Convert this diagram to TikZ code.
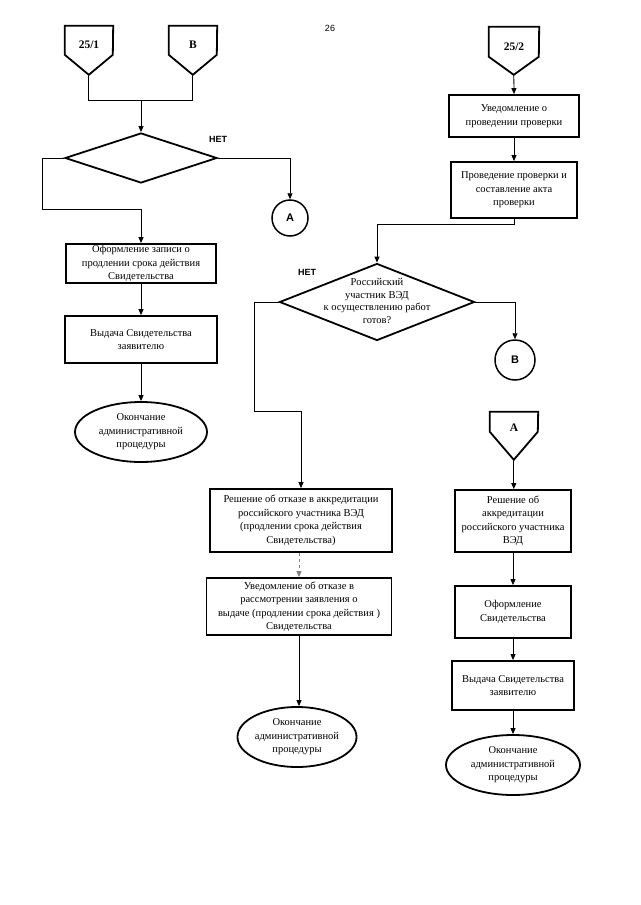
\documentclass[tikz,border=0pt]{standalone}
\usepackage{fontspec}
\setmainfont{Liberation Serif}
\setsansfont{Liberation Sans}
\usetikzlibrary{positioning,shapes.geometric,arrows.meta}

\tikzset{
  procbox/.style={draw,line width=1.8pt,align=center,inner sep=1pt,
    font=\fontsize{10.5}{13.5}\selectfont},
  decision/.style={diamond,draw,line width=1.8pt,inner sep=0pt},
  endproc/.style={ellipse,draw,line width=1.8pt,inner sep=0pt,align=center,
    font=\fontsize{10.5}{13.5}\selectfont},
  onpage/.style={circle,draw,line width=1.5pt,inner sep=0pt,
    font=\sffamily\bfseries\fontsize{11}{13}\selectfont},
  offpage/.style={inner sep=0pt,minimum width=48pt,
    font=\bfseries\fontsize{11.5}{13}\selectfont},
  pentline/.style={line width=1.8pt,line join=miter},
  nolabel/.style={font=\sffamily\bfseries\fontsize{9}{11}\selectfont},
  flow/.style={line width=0.8pt},
  flowarrow/.style={flow,-{Triangle[length=6pt,width=5pt]}},
}

\begin{document}
\begin{tikzpicture}[x=1pt,y=-1pt]

          \useasboundingbox (0,0) rectangle (640,905);
          \node[font=\sffamily\fontsize{9}{10}\selectfont] (pagenum) at (330,28) {26};

          % Entry points 25/1 and B
          \node[offpage,minimum height=38pt] (p251) at (89,45) {25/1};
          \draw[pentline] (p251.north west) -- ++(0,29) -- ++(24,20) coordinate (p251tip)
              -- ++(24,-20) -- (p251.north east) -- cycle;
          \node[offpage,minimum height=38pt] (pB) at (193,45) {В};
          \draw[pentline] (pB.north west) -- ++(0,29) -- ++(24,20) coordinate (pBtip)
              -- ++(24,-20) -- (pB.north east) -- cycle;

          % First check
          \node[decision,minimum width=152pt,minimum height=50pt] (d1) at (141,158) {};
          \node[nolabel] (no1) at (218,139) {НЕТ};
          \node[onpage,minimum size=36pt] (cA) at (290,218) {A};

          % Left column
          \node[procbox,minimum width=150pt,minimum height=39pt] (b1) at (141,263.5)
              {Оформление записи о\\продлении срока действия\\Свидетельства};
          \node[procbox,minimum width=152pt,minimum height=47pt] (b2) at (141,339.5)
              {Выдача Свидетельства\\заявителю};
          \node[endproc,minimum width=132pt,minimum height=60pt] (e1) at (141,432)
              {Окончание\\административной\\процедуры};

          % Entry point 25/2
          \node[offpage,minimum width=50pt,minimum height=40pt] (p252) at (514,47) {25/2};
          \draw[pentline] (p252.north west) -- ++(0,30) -- ++(25,18) coordinate (p252tip)
              -- ++(25,-18) -- (p252.north east) -- cycle;
          \node[procbox,minimum width=130pt,minimum height=42pt] (r1) at (514,116)
              {Уведомление о\\проведении проверки};
          \node[procbox,minimum width=126pt,minimum height=56pt] (r2) at (514,190)
              {Проведение проверки и\\составление акта\\проверки};

          % Second check
          \node[decision,minimum width=195pt,minimum height=77pt] (d2) at (377,302) {};
          \node[align=center,inner sep=0pt,font=\fontsize{10.5}{12.7}\selectfont] (d2txt)
              at (377,301) {Российский\\участник ВЭД\\к осуществлению работ\\готов?};
          \node[nolabel] (no2) at (307,272) {НЕТ};
          \node[onpage,minimum size=40pt] (cB) at (515,360) {B};

          % Refusal branch
          \node[procbox,minimum width=182pt,minimum height=63pt] (m1) at (301,520.5)
              {Решение об отказе в аккредитации\\российского участника ВЭД\\(продлении срока действия\\Свидетельства)};
          \node[procbox,minimum width=185pt,minimum height=57pt] (m2) at (299,606.5)
              {Уведомление об отказе в\\рассмотрении заявления о\\выдаче (продлении срока действия )\\Свидетельства};
          \node[endproc,minimum width=118pt,minimum height=60pt] (e2) at (297,737)
              {Окончание\\административной\\процедуры};

          % Entry point A
          \node[offpage,minimum height=32pt] (pA) at (514,428) {А};
          \draw[pentline] (pA.north west) -- ++(0,20) -- ++(24,28) coordinate (pAtip)
              -- ++(24,-28) -- (pA.north east) -- cycle;
          \node[procbox,minimum width=116pt,minimum height=62pt] (r3) at (513,521)
              {Решение об\\аккредитации\\российского участника\\ВЭД};
          \node[procbox,minimum width=116pt,minimum height=52pt] (r4) at (513,612)
              {Оформление\\Свидетельства};
          \node[procbox,minimum width=122pt,minimum height=49pt] (r5) at (513,685.5)
              {Выдача Свидетельства\\заявителю};
          \node[endproc,minimum width=134pt,minimum height=60pt] (e3) at (513,765)
              {Окончание\\административной\\процедуры};

          % Connectors
          \coordinate (j1) at (141,100);
          \draw[flow] (p251tip) |- (j1);
          \draw[flow] (pBtip) |- (j1);
          \draw[flowarrow] (j1) -- (d1.north);
          \draw[flowarrow] (d1.east) -| (cA.north);
          \coordinate (k1) at (141,209);
          \draw[flowarrow] (d1.west) -- ++(-22,0) |- (k1) -- (b1.north);
          \draw[flowarrow] (b1) -- (b2);
          \draw[flowarrow] (b2) -- (e1);

          \draw[flowarrow] (p252tip) -- (r1.north);
          \draw[flowarrow] (r1) -- (r2);
          \coordinate (k2) at (377,224);
          \draw[flowarrow] (r2.south) |- (k2) -- (d2.north);
          \draw[flowarrow] (d2.east) -| (cB.north);
          \coordinate (k3) at (301,411);
          \draw[flowarrow] (d2.west) -- ++(-24,0) |- (k3) -- (m1.north);
          \draw[flowarrow,dashed,gray] (m1.south -| m2.north) -- (m2.north);
          \draw[flowarrow] (m2.south) -- (m2.south |- e2.north);

          \draw[flowarrow] (pAtip) -- (pAtip |- r3.north);
          \draw[flowarrow] (r3) -- (r4);
          \draw[flowarrow] (r4) -- (r5);
          \draw[flowarrow] (r5) -- (e3);

\end{tikzpicture}
\end{document}
